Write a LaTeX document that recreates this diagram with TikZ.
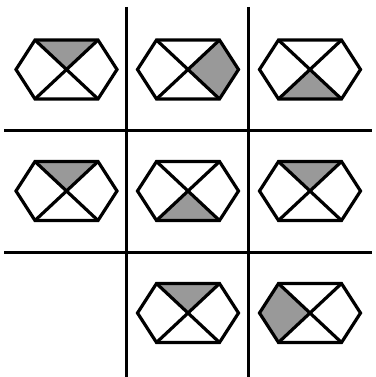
\documentclass[tikz,border=0pt]{standalone}
\usepackage{tikz}

\tikzset{
  gridline/.style={line width=3pt},
  hexline/.style={line width=3.2pt},
  shaded/.style={fill=black!40},
  hexcross/.pic={
    \draw[hexline] (-50.5,0) -- (-31.5,-29.5) -- (31.5,-29.5) -- (50.5,0) -- (31.5,29.5) -- (-31.5,29.5) -- cycle;
    \draw[hexline] (-31.5,-29.5) -- (31.5,29.5) (31.5,-29.5) -- (-31.5,29.5);
  },
  toptri/.pic={\fill[shaded] (-31.5,-29.5) -- (31.5,-29.5) -- (0,0) -- cycle;},
  bottri/.pic={\fill[shaded] (-31.5,29.5) -- (31.5,29.5) -- (0,0) -- cycle;},
  rightquad/.pic={\fill[shaded] (0,0) -- (31.5,-29.5) -- (50.5,0) -- (31.5,29.5) -- cycle;},
  leftquad/.pic={\fill[shaded] (0,0) -- (-31.5,-29.5) -- (-50.5,0) -- (-31.5,29.5) -- cycle;}
}

\begin{document}
\begin{tikzpicture}[x=1pt,y=-1pt]
\useasboundingbox (0,0) rectangle (375,377);

\draw[gridline] (126,7) -- (126,377);
\draw[gridline] (248,7) -- (248,377);
\draw[gridline] (4,130.5) -- (372,130.5);
\draw[gridline] (4,252.5) -- (372,252.5);

\foreach \x/\y/\part in {66.5/69.5/toptri, 188/69.5/rightquad, 310/69.5/bottri,
                         66.5/191/toptri, 188/191/bottri, 310/191/toptri,
                         188/313/toptri, 310/313/leftquad} {
  \pic at (\x,\y) {\part};
  \pic at (\x,\y) {hexcross};
}
\end{tikzpicture}
\end{document}
